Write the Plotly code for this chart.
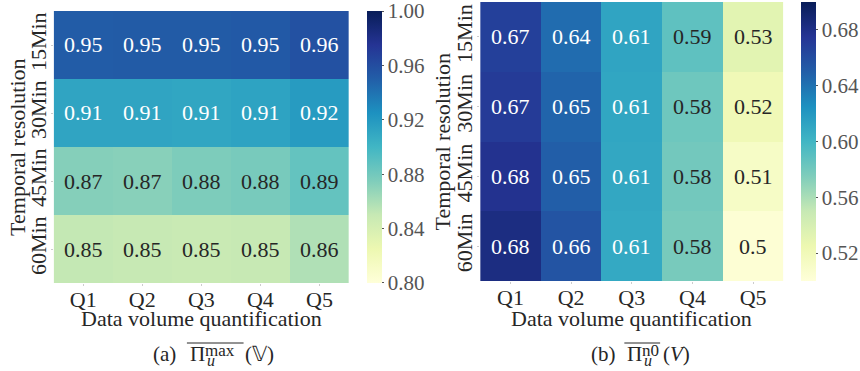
import plotly.graph_objects as go
from plotly.colors import sample_colorscale, sequential, unlabel_rgb

# ---------------- data ----------------
quant = ["Q1", "Q2", "Q3", "Q4", "Q5"]
resolution = ["15Min", "30Min", "45Min", "60Min"]

pi_max = [
    [0.951, 0.952, 0.952, 0.953, 0.958],
    [0.912, 0.912, 0.911, 0.913, 0.918],
    [0.873, 0.872, 0.876, 0.878, 0.886],
    [0.851, 0.850, 0.849, 0.850, 0.858],
]
pi_n0 = [
    [0.668, 0.643, 0.612, 0.588, 0.532],
    [0.671, 0.647, 0.611, 0.582, 0.521],
    [0.677, 0.650, 0.610, 0.580, 0.512],
    [0.683, 0.656, 0.609, 0.578, 0.503],
]
range_a = (0.80, 1.00)
range_b = (0.50, 0.70)
ticks_a = [0.80, 0.84, 0.88, 0.92, 0.96, 1.00]
ticks_b = [0.52, 0.56, 0.60, 0.64, 0.68]

x_title = "Data volume quantification"
y_title = "Temporal resolution"

# ---------------- style ----------------
W, H = 860, 371
FONT = "Liberation Serif"
CS = sequential.YlGnBu
DARK = "#262626"


def text_color(v, lo, hi):
    f = min(max((v - lo) / (hi - lo), 0), 1)
    c = sample_colorscale(CS, [f])[0]
    r, g, b = [x / 255 for x in unlabel_rgb(c)]
    lin = [x / 12.92 if x <= 0.03928 else ((x + 0.055) / 1.055) ** 2.4 for x in (r, g, b)]
    lum = 0.2126 * lin[0] + 0.7152 * lin[1] + 0.0722 * lin[2]
    return DARK if lum > 0.408 else "white"


def paper_text(px, py, text, size=21, angle=0, xanchor="center"):
    return dict(x=px / W, y=1 - py / H, xref="paper", yref="paper",
                xanchor=xanchor, yanchor="middle", text=text,
                textangle=angle, showarrow=False,
                font=dict(family=FONT, size=size, color=DARK))


fig = go.Figure()

panels = [
    dict(z=pi_max, rng=range_a, ticks=ticks_a, xa="x", ya="y",
         xdom=[54 / W, 351 / W], ydom=[1 - 283 / H, 1 - 11 / H], cbx=369 / W),
    dict(z=pi_n0, rng=range_b, ticks=ticks_b, xa="x2", ya="y2",
         xdom=[483 / W, 788 / W], ydom=[1 - 281 / H, 1 - 2 / H], cbx=806 / W),
]

annotations = []
for i, p in enumerate(panels):
    lo, hi = p["rng"]
    ylen = p["ydom"][1] - p["ydom"][0]
    eps = (hi - lo) * 1e-4
    tv = [min(max(t, lo + eps), hi - eps) for t in p["ticks"]]
    fig.add_trace(go.Heatmap(
        z=p["z"], x=quant, y=resolution, xaxis=p["xa"], yaxis=p["ya"],
        colorscale=CS, zmin=lo, zmax=hi,
        xgap=0, ygap=0, hoverinfo="skip",
        colorbar=dict(
            x=p["cbx"], xanchor="left", xpad=0, ypad=0,
            y=(p["ydom"][0] + p["ydom"][1]) / 2, yanchor="middle",
            len=ylen, lenmode="fraction", thickness=15,
            outlinewidth=0, ticks="outside", ticklen=2, tickcolor="#555",
            tickvals=tv, ticktext=[f"{t:.2f}" for t in p["ticks"]],
            ticklabeloverflow="allow",
            tickfont=dict(family=FONT, size=21, color="#555"),
        ),
    ))
    for r, row in enumerate(p["z"]):
        for c, v in enumerate(row):
            annotations.append(dict(
                x=quant[c], y=resolution[r], xref=p["xa"], yref=p["ya"],
                xanchor="center", yanchor="middle",
                text=f"{v:.2g}", showarrow=False,
                font=dict(family=FONT, size=22,
                          color=text_color(v, lo, hi)),
            ))
    axkey = "xaxis" if i == 0 else "xaxis2"
    aykey = "yaxis" if i == 0 else "yaxis2"
    fig.layout[axkey] = dict(
        domain=p["xdom"], anchor=p["ya"], showgrid=False, zeroline=False,
        automargin=False, ticks="outside", ticklen=2, tickcolor="#ccc",
        ticklabelstandoff=-5,
        tickfont=dict(family=FONT, size=22, color=DARK),
    )
    fig.layout[aykey] = dict(
        domain=p["ydom"], anchor=p["xa"], showgrid=False, zeroline=False,
        automargin=False, autorange="reversed", ticks="outside", ticklen=2,
        tickcolor="#ccc", tickangle=-90, ticklabelstandoff=-4,
        tickfont=dict(family=FONT, size=22, color=DARK),
    )

# axis titles
annotations.append(paper_text((54 + 351) / 2, 318, x_title, 22))
annotations.append(paper_text((483 + 788) / 2, 318, x_title, 22))
annotations.append(paper_text(17, 147, y_title, 22, -90))
annotations.append(paper_text(445, 142, y_title, 22, -90))

# captions (built from pieces so the super/subscripts stack like LaTeX)
captions = [
    dict(label="(a)", lx=152, px=189, sup="max", sub="<i>u</i>", arg="(𝕍)", ax=244,
         bar=(188, 245)),
    dict(label="(b)", lx=592, px=629, sup="n0", sub="<i>u</i>", arg="(<i>V</i>)", ax=665,
         bar=(628, 664)),
]
shapes = []
for cp in captions:
    annotations.append(paper_text(cp["lx"], 354, cp["label"], 21, xanchor="left"))
    annotations.append(paper_text(cp["px"], 354, "Π", 21, xanchor="left"))
    annotations.append(paper_text(cp["px"] + 15, 350, cp["sup"], 17, xanchor="left"))
    annotations.append(paper_text(cp["px"] + 17, 360, cp["sub"], 16, xanchor="left"))
    annotations.append(paper_text(cp["ax"], 354, cp["arg"], 21, xanchor="left"))
    shapes.append(dict(type="line", xref="paper", yref="paper",
                       x0=cp["bar"][0] / W, x1=cp["bar"][1] / W,
                       y0=1 - 343 / H, y1=1 - 343 / H,
                       line=dict(color=DARK, width=1)))

fig.update_layout(
    width=W, height=H, margin=dict(l=0, r=0, t=0, b=0),
    paper_bgcolor="white", plot_bgcolor="white",
    annotations=annotations, shapes=shapes, showlegend=False,
)

fig.write_html("out.html")
